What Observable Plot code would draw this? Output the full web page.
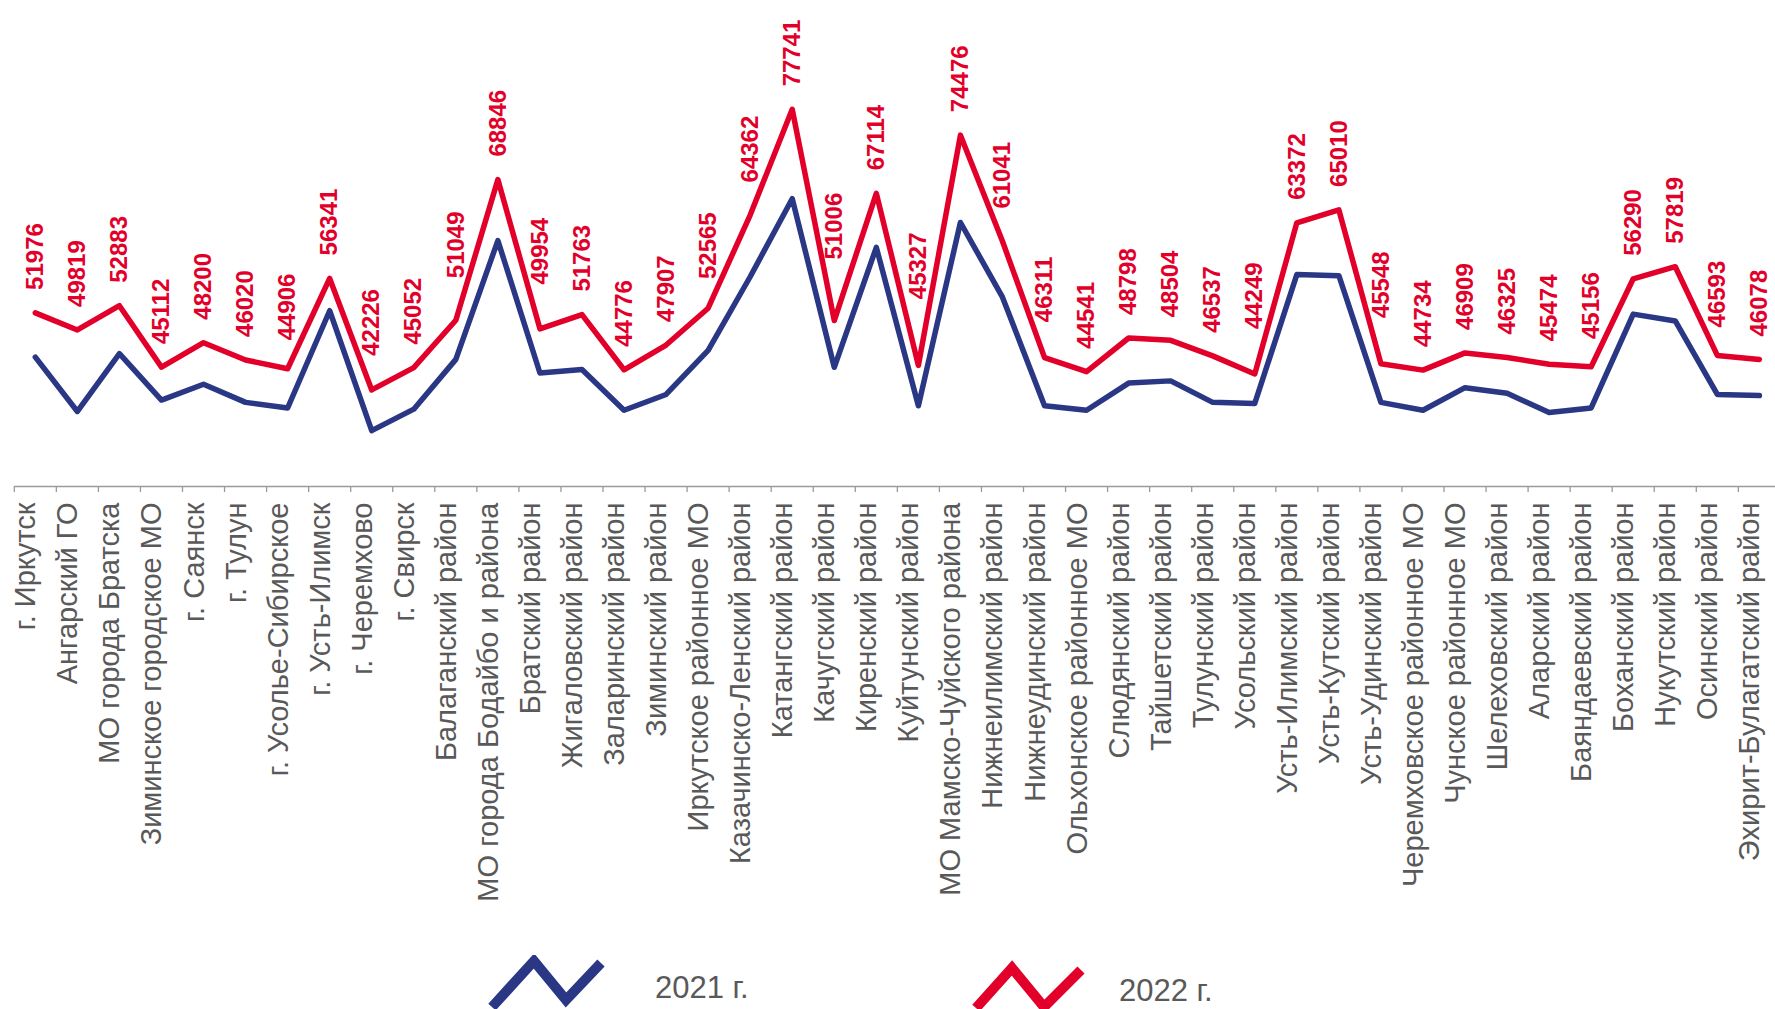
<!DOCTYPE html>
<html><head><meta charset="utf-8">
<script src="https://cdn.jsdelivr.net/npm/d3@7"></script>
<script src="https://cdn.jsdelivr.net/npm/@observablehq/plot@0.6"></script>
<style>
html,body{margin:0;padding:0;background:#fff;overflow:hidden;width:1775px;height:1009px;}
#chart svg{overflow:hidden;display:block}
#legend svg{display:block}
</style></head><body>
<div id="chart"></div>
<div id="legend"></div>
<script>
const categories = [
  "г. Иркутск","Ангарский ГО","МО города Братска","Зиминское городское МО","г. Саянск","г. Тулун",
  "г. Усолье-Сибирское","г. Усть-Илимск","г. Черемхово","г. Свирск","Балаганский район",
  "МО города Бодайбо и района","Братский район","Жигаловский район","Заларинский район",
  "Зиминский район","Иркутское районное МО","Казачинско-Ленский район","Катангский район",
  "Качугский район","Киренский район","Куйтунский район","МО Мамско-Чуйского района",
  "Нижнеилимский район","Нижнеудинский район","Ольхонское районное МО","Слюдянский район",
  "Тайшетский район","Тулунский район","Усольский район","Усть-Илимский район",
  "Усть-Кутский район","Усть-Удинский район","Черемховское районное МО","Чунское районное МО",
  "Шелеховский район","Аларский район","Баяндаевский район","Боханский район",
  "Нукутский район","Осинский район","Эхирит-Булагатский район"
];
const values2021 = [
  46380, 39500, 46810, 40940, 42940, 40650, 39940, 52250, 37070, 39790, 46090,
  61130, 44370, 44800, 39650, 41650, 47240, 56550, 66430, 45090, 60270, 40220,
  63420, 53970, 40220, 39650, 43090, 43370, 40650, 40510, 56830, 56690, 40650,
  39650, 42510, 41800, 39360, 39940, 51820, 50960, 41650, 41510
];
const values2022 = [
  51976, 49819, 52883, 45112, 48200, 46020, 44906, 56341, 42226, 45052, 51049,
  68846, 49954, 51763, 44776, 47907, 52565, 64362, 77741, 51006, 67114, 45327,
  74476, 61041, 46311, 44541, 48798, 48504, 46537, 44249, 63372, 65010, 45548,
  44734, 46909, 46325, 45474, 45156, 56290, 57819, 46593, 46078
];
const seriesNames = ["2021 г.", "2022 г."];
const seriesColors = ["#2A3784", "#E2002A"];

const n = categories.length;
const rows = categories.map((name, i) => ({i, name, v2021: values2021[i], v2022: values2022[i]}));
const boundaries = d3.range(n + 1).map(k => k - 0.5);

// keep value labels clear of the neighbouring line segments
const reach = 0.27, clearance = 2400;
const labelAnchor = values2022.map((v, i) => {
  let a = v;
  if (i > 0) a = Math.max(a, v + reach * (values2022[i - 1] - v) - clearance);
  if (i < n - 1) a = Math.max(a, v + reach * (values2022[i + 1] - v) - clearance);
  return a;
});

const W = 1775, H = 955;
const chart = Plot.plot({
  width: W, height: H,
  marginTop: 12, marginBottom: H - 486, marginLeft: 14, marginRight: 0,
  style: {fontFamily: "'Liberation Sans', Arial, sans-serif", background: "#fff"},
  x: {domain: [-0.5, n - 0.5], range: [13.8, 1779.9], axis: null, label: null},
  y: {domain: [30000, 90000], axis: null, label: null},
  marks: [
    Plot.ruleY([30000], {stroke: "#9a9a9a", strokeWidth: 1.3}),
    Plot.axisX({ticks: boundaries, tickSize: 6, tickFormat: () => "", label: null, stroke: "#9a9a9a", strokeWidth: 1.3}),
    Plot.text(rows, {x: "i", text: "name", frameAnchor: "bottom", rotate: -90, textAnchor: "end",
      dy: 16, fontSize: 29, fill: "#595959"}),
    Plot.line(rows, {x: "i", y: "v2021", stroke: seriesColors[0], strokeWidth: 5.5}),
    Plot.line(rows, {x: "i", y: "v2022", stroke: seriesColors[1], strokeWidth: 5.5}),
    Plot.text(rows, {x: "i", y: (d, k) => labelAnchor[k], text: d => String(d.v2022), rotate: -90,
      textAnchor: "start", dy: -23, fontSize: 24, fontWeight: "bold", fill: seriesColors[1]})
  ]
});
document.getElementById("chart").appendChild(chart);

// legend
const leg = d3.select("#legend").append("svg").attr("width", W).attr("height", 1009 - H);
const legendItems = [
  {name: seriesNames[0], color: seriesColors[0], icon: [[492, 52], [534, 6], [566, 45], [601, 8]], tx: 655, ty: 43},
  {name: seriesNames[1], color: seriesColors[1], icon: [[976, 53], [1012, 13], [1044, 52], [1081, 15]], tx: 1119, ty: 46}
];
for (const it of legendItems) {
  leg.append("polyline").attr("points", it.icon.map(p => p.join(",")).join(" "))
    .attr("fill", "none").attr("stroke", it.color).attr("stroke-width", 10)
    .attr("stroke-linejoin", "miter").attr("stroke-linecap", "butt");
  leg.append("text").attr("x", it.tx).attr("y", it.ty).text(it.name)
    .attr("font-family", "'Liberation Sans Narrow', 'Arial Narrow', 'Liberation Sans', sans-serif")
    .attr("font-size", 31).attr("fill", "#595959");
}
</script>
</body></html>
